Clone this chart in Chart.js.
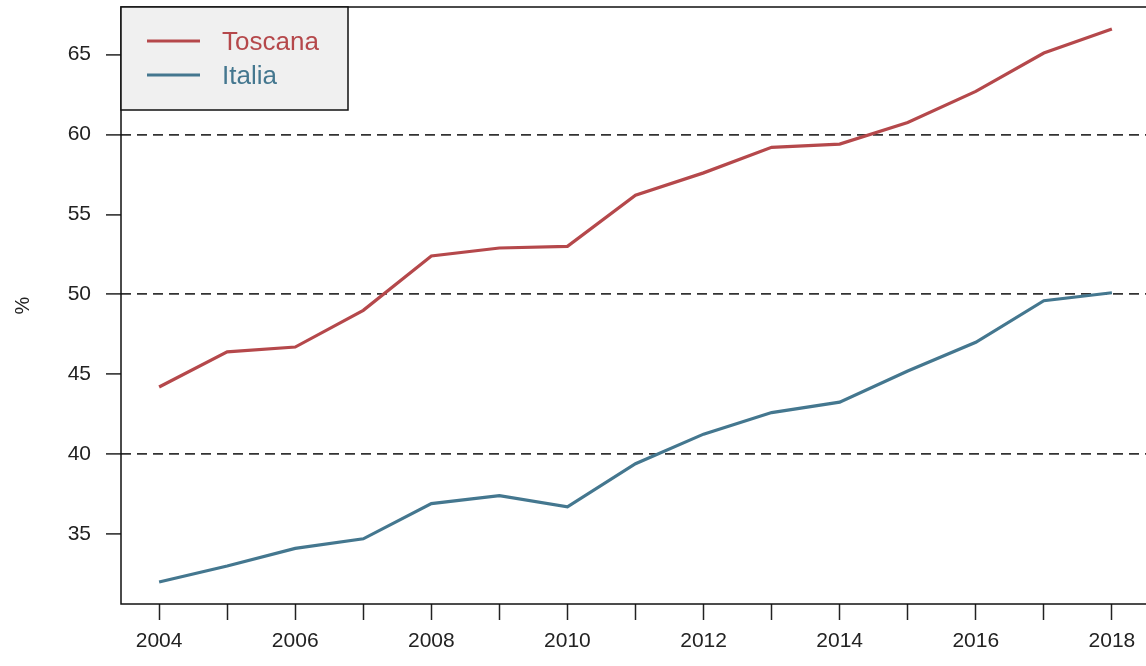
<!DOCTYPE html>
<html>
<head>
<meta charset="utf-8">
<script src="https://cdn.jsdelivr.net/npm/chart.js@4/dist/chart.umd.min.js"></script>
<style>
  html, body { margin: 0; padding: 0; background: #ffffff; overflow: hidden; width: 1146px; height: 666px; }
  #wrap { position: absolute; left: 0; top: 0; width: 1160px; height: 666px; }
</style>
</head>
<body>
<div id="wrap"><canvas id="c" width="1160" height="666"></canvas></div>
<script>
const YEARS = [2004, 2005, 2006, 2007, 2008, 2009, 2010, 2011, 2012, 2013, 2014, 2015, 2016, 2017, 2018];
const TOSCANA = [44.2, 46.4, 46.7, 49.0, 52.4, 52.9, 53.0, 56.2, 57.6, 59.2, 59.4, 60.75, 62.7, 65.1, 66.6];
const ITALIA = [32.0, 33.0, 34.1, 34.7, 36.9, 37.4, 36.7, 39.4, 41.25, 42.6, 43.25, 45.2, 47.0, 49.6, 50.1];
const SERIES_NAMES = ['Toscana', 'Italia'];
const Y_TICKS = [35, 40, 45, 50, 55, 60, 65];
const X_LABELED = [2004, 2006, 2008, 2010, 2012, 2014, 2016, 2018];
const REF_LINES = [40, 50, 60];
const Y_TITLE = '%';

const RED = '#b5484b';
const BLUE = '#44778f';

const toPts = (vals) => YEARS.map((y, i) => ({ x: y, y: vals[i] }));

const boxPlugin = {
  id: 'boxPlugin',
  afterDatasetsDraw(chart) {
    const { ctx, chartArea: a } = chart;
    ctx.save();
    ctx.strokeStyle = '#111';
    ctx.lineWidth = 1.5;
    ctx.strokeRect(a.left, a.top, a.right - a.left, a.bottom - a.top);
    ctx.restore();
  }
};

const legendPlugin = {
  id: 'rLegend',
  afterDraw(chart) {
    const { ctx, chartArea: a } = chart;
    const x0 = a.left, y0 = a.top, w = 227, h = 103;
    ctx.save();
    ctx.fillStyle = '#f0f0f0';
    ctx.fillRect(x0, y0, w, h);
    ctx.strokeStyle = '#111';
    ctx.lineWidth = 1.5;
    ctx.strokeRect(x0, y0, w, h);
    chart.data.datasets.forEach((ds, i) => {
      const ly = y0 + 34 + i * 34;
      ctx.strokeStyle = ds.borderColor;
      ctx.lineWidth = 3;
      ctx.beginPath();
      ctx.moveTo(x0 + 26, ly);
      ctx.lineTo(x0 + 79, ly);
      ctx.stroke();
      ctx.fillStyle = ds.borderColor;
      ctx.font = '26px "Liberation Sans", Arial, sans-serif';
      ctx.textBaseline = 'middle';
      ctx.textAlign = 'left';
      ctx.fillText(ds.label, x0 + 101, ly + 2);
    });
    ctx.restore();
  }
};

new Chart(document.getElementById('c'), {
  type: 'line',
  data: {
    datasets: [
      { label: SERIES_NAMES[0], data: toPts(TOSCANA), borderColor: RED, backgroundColor: RED, borderWidth: 3.2, pointRadius: 0, tension: 0, fill: false },
      { label: SERIES_NAMES[1], data: toPts(ITALIA), borderColor: BLUE, backgroundColor: BLUE, borderWidth: 3.2, pointRadius: 0, tension: 0, fill: false }
    ]
  },
  options: {
    responsive: false,
    animation: false,
    layout: { padding: { top: 7, right: 10, left: 0, bottom: 0 } },
    plugins: { legend: { display: false }, tooltip: { enabled: false }, title: { display: false } },
    scales: {
      x: {
        type: 'linear',
        min: 2003.44,
        max: 2018.56,
        afterBuildTicks: (s) => { s.ticks = YEARS.map(v => ({ value: v })); },
        afterFit: (s) => { s.height = 62; s.paddingLeft = 0; s.paddingRight = 0; },
        ticks: {
          autoSkip: false,
          maxRotation: 0,
          minRotation: 0,
          padding: 9,
          color: '#222',
          font: { family: '"Liberation Sans", Arial, sans-serif', size: 21 },
          callback: (v) => X_LABELED.includes(v) ? String(v) : ''
        },
        grid: { drawOnChartArea: false, drawTicks: true, tickLength: 16, tickColor: '#222', tickWidth: 1.5 },
        border: { display: false }
      },
      y: {
        min: 30.62,
        max: 67.98,
        afterBuildTicks: (s) => { s.ticks = Y_TICKS.map(v => ({ value: v })); },
        afterFit: (s) => { s.width = 121; s.paddingTop = 0; s.paddingBottom = 0; },
        ticks: {
          padding: 15,
          color: '#222',
          font: { family: '"Liberation Sans", Arial, sans-serif', size: 21 }
        },
        grid: {
          drawOnChartArea: true,
          drawTicks: true,
          tickLength: 15,
          tickColor: '#222',
          tickWidth: 1.5,
          lineWidth: 1.8,
          color: (c) => (c.tick && REF_LINES.includes(c.tick.value)) ? '#333333' : 'rgba(0,0,0,0)'
        },
        border: { display: false, dash: [10, 6] },
        title: {
          display: true,
          text: Y_TITLE,
          color: '#222',
          font: { family: '"Liberation Sans", Arial, sans-serif', size: 20 },
          padding: { top: 11, bottom: 0 }
        }
      }
    }
  },
  plugins: [boxPlugin, legendPlugin]
});
</script>
</body>
</html>
